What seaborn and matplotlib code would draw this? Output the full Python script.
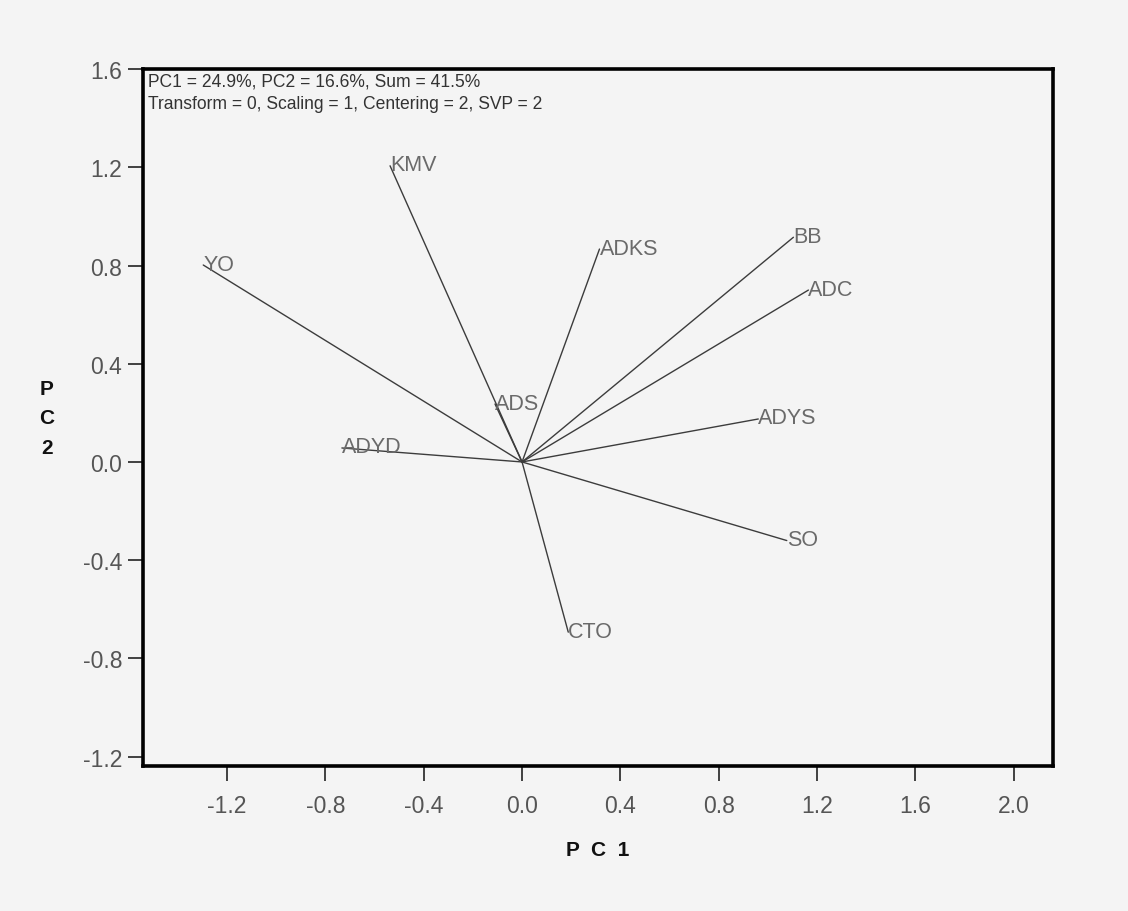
import pandas as pd
import matplotlib.pyplot as plt
import seaborn as sns

# PCA loadings
variables = ["KMV", "YO", "ADS", "ADYD", "ADKS", "BB", "ADC", "ADYS", "SO", "CTO"]
pc1 = [-0.537, -1.297, -0.110, -0.733, 0.315, 1.104, 1.165, 0.961, 1.077, 0.188]
pc2 = [1.206, 0.802, 0.236, 0.057, 0.867, 0.915, 0.700, 0.175, -0.320, -0.693]

x_ticks = [-1.2, -0.8, -0.4, 0.0, 0.4, 0.8, 1.2, 1.6, 2.0]
y_ticks = [-1.2, -0.8, -0.4, 0.0, 0.4, 0.8, 1.2, 1.6]

caption = ("PC1 = 24.9%, PC2 = 16.6%, Sum = 41.5%\n"
           "Transform = 0, Scaling = 1, Centering = 2, SVP = 2")

# Segments from the origin to each loading
rows = []
for v, a, b in zip(variables, pc1, pc2):
    rows.append({"var": v, "PC1": 0.0, "PC2": 0.0})
    rows.append({"var": v, "PC1": a, "PC2": b})
segments = pd.DataFrame(rows)

sns.set_theme(style="white")
plt.rcParams["font.family"] = ["Liberation Sans", "DejaVu Sans"]

bg = "#f4f4f4"
fig = plt.figure(figsize=(11.28, 9.12), dpi=100, facecolor=bg)
ax = fig.add_axes([0.1268, 0.159, 0.8067, 0.7642])
ax.set_facecolor(bg)

sns.lineplot(
    data=segments,
    x="PC1",
    y="PC2",
    units="var",
    estimator=None,
    sort=False,
    color="#3c3c3c",
    linewidth=1.0,
    legend=False,
    ax=ax
)

for v, a, b in zip(variables, pc1, pc2):
    ax.annotate(
        v, xy=(a, b), xytext=(0, -4.5), textcoords="offset pixels",
        ha="left", va="baseline", fontsize=15.5, color="#6a6a6a"
    )

ax.annotate(
    caption, xy=(0, 1), xycoords="axes fraction",
    xytext=(5, -3), textcoords="offset pixels",
    ha="left", va="top", fontsize=12.65, color="#333333", linespacing=1.42
)

ax.set_xlim(-1.542, 2.160)
ax.set_ylim(-1.238, 1.600)
ax.set_xticks(x_ticks)
ax.set_yticks(y_ticks)
ax.set_xticklabels([f"{t:.1f}" for t in x_ticks])
ax.set_yticklabels([f"{t:.1f}" for t in y_ticks])

for s in ax.spines.values():
    s.set_color("black")
    s.set_linewidth(2.6)

ax.tick_params(
    axis="both", direction="out", length=11, width=1.2,
    color="#222222", labelsize=16.5, labelcolor="#555555",
    bottom=True, left=True
)
ax.tick_params(axis="x", pad=9)
ax.tick_params(axis="y", pad=4)

ax.set_xlabel("")
ax.set_ylabel("")
fig.text(598 / 1128, 1 - 851 / 912, "P  C  1", ha="center", va="center",
         fontsize=15, fontweight="bold", color="#111111")
fig.text(47 / 1128, 1 - 419 / 912, "P\nC\n2", ha="center", va="center",
         fontsize=15, fontweight="bold", color="#111111", linespacing=1.73)

fig.savefig("out.png", dpi=100, facecolor=bg)
